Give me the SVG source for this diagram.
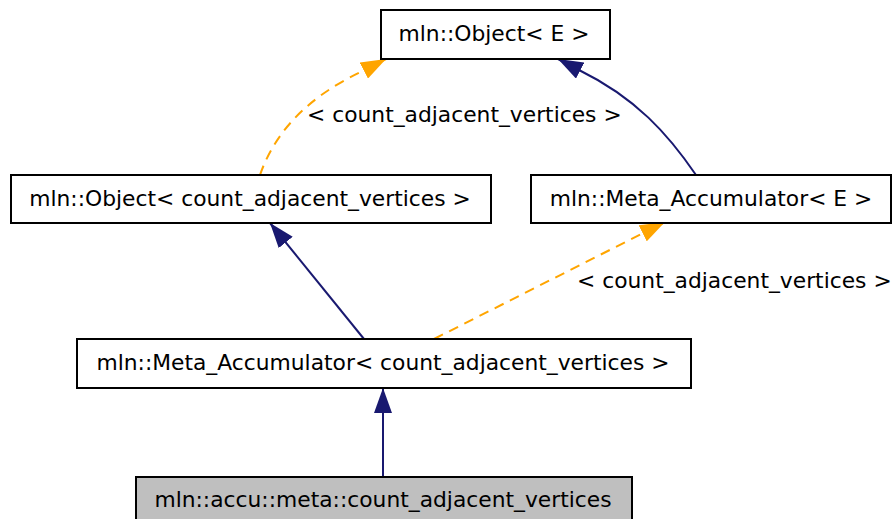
<svg xmlns="http://www.w3.org/2000/svg" width="893" height="519" viewBox="0 0 893 519">
<defs>
<style>
.node rect{fill:#ffffff;stroke:#000000;stroke-width:2}
.node.cur rect{fill:#bfbfbf}
text{font-family:"DejaVu Sans","Liberation Sans",sans-serif;font-size:21.8px;fill:#000000}
.node text{text-anchor:middle}
.inh{fill:none;stroke:#191970;stroke-width:2}
.tpl{fill:none;stroke:#ffa500;stroke-width:2;stroke-dasharray:10,7}
</style>
<marker id="ahNavy" markerUnits="userSpaceOnUse" viewBox="0 0 25 18" refX="25" refY="9" markerWidth="25" markerHeight="18" orient="auto">
<path d="M0,0 L25,9 L0,18 z" fill="#191970"/>
</marker>
<marker id="ahOrange" markerUnits="userSpaceOnUse" viewBox="0 0 25 18" refX="25" refY="9" markerWidth="25" markerHeight="18" orient="auto">
<path d="M0,0 L25,9 L0,18 z" fill="#ffa500"/>
</marker>
</defs>
<rect x="0" y="0" width="893" height="519" fill="#ffffff"/>
<g id="connectors">
<path class="inh" d="M383,477 L383,388" marker-end="url(#ahNavy)"/>
<path class="inh" d="M364,339 L270,223" marker-end="url(#ahNavy)"/>
<path class="tpl" d="M434,339 L665,222" marker-end="url(#ahOrange)"/>
<path class="tpl" d="M260,175 C272,140 300,100 363,71 L386,59" marker-end="url(#ahOrange)"/>
<path class="inh" d="M696,175 C668,134 636,98 579,70 L558,59" marker-end="url(#ahNavy)"/>
<text x="307" y="122">&lt; count_adjacent_vertices &gt;</text>
<text x="577" y="288">&lt; count_adjacent_vertices &gt;</text>
</g>
<g id="node-object-E" class="node">
<rect x="381" y="10" width="229" height="49"/>
<text x="494" y="41">mln::Object&lt; E &gt;</text>
</g>
<g id="node-object-cav" class="node">
<rect x="11" y="175" width="480" height="48"/>
<text x="250" y="206">mln::Object&lt; count_adjacent_vertices &gt;</text>
</g>
<g id="node-meta-E" class="node">
<rect x="531" y="175" width="360" height="48"/>
<text x="711" y="206">mln::Meta_Accumulator&lt; E &gt;</text>
</g>
<g id="node-meta-cav" class="node">
<rect x="77" y="339" width="614" height="49"/>
<text x="383" y="370">mln::Meta_Accumulator&lt; count_adjacent_vertices &gt;</text>
</g>
<g id="node-cav" class="node cur">
<rect x="136" y="477" width="496" height="50"/>
<text x="383" y="507">mln::accu::meta::count_adjacent_vertices</text>
</g>
</svg>
